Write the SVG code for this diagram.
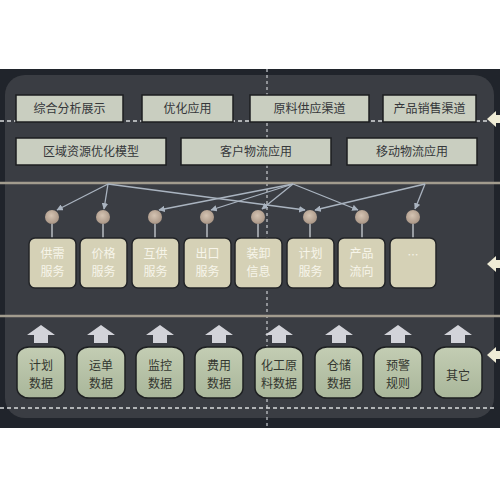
<svg xmlns="http://www.w3.org/2000/svg" width="500" height="500" viewBox="0 0 500 500">
<defs>
<style>
text{font-family:"Noto Sans CJK SC","Noto Sans",sans-serif;text-anchor:middle;}
.tb rect{fill:#c9cec0;stroke:#1c1e21;stroke-width:1.5;}
.tb text{font-size:12px;fill:#35373a;}
.svc rect{fill:#d5d1b6;stroke:#232528;stroke-width:1.5;}
.svc text{font-size:12px;fill:#f7f5ea;}
.cyl rect{fill:url(#cg);stroke:#1e2022;stroke-width:1.5;}
.cyl text{font-size:12px;fill:#33362f;}
.dot{fill:url(#dg);}
.stem{stroke:#b9bcc0;stroke-width:1.5;}
.conn line{stroke:#aab4c0;stroke-width:1.3;marker-end:url(#ah);}
.up{fill:#d2d3d9;}
.la{fill:#efecd6;}
</style>
<radialGradient id="dg" cx="0.45" cy="0.4" r="0.6">
<stop offset="0" stop-color="#d4c3b2"/><stop offset="1" stop-color="#a99686"/>
</radialGradient>
<linearGradient id="cg" x1="0" y1="0" x2="0" y2="1">
<stop offset="0" stop-color="#c3cdb3"/><stop offset="1" stop-color="#a9b69a"/>
</linearGradient>
<marker id="ah" viewBox="0 0 10 10" refX="9" refY="5" markerWidth="5" markerHeight="5" orient="auto">
<path d="M0,0 L10,5 L0,10 z" fill="#aab4c0"/>
</marker>
<path id="upA" d="M-14,10 L0,0 L14,10 L7,10 L7,18 L-7,18 L-7,10 z"/>
<path id="lA" d="M0,0 L9,-8 L9,-4 L14,-4 L14,4 L9,4 L9,8 z"/>
</defs>

<rect x="0" y="0" width="500" height="500" fill="#ffffff"/>
<rect x="0" y="69" width="500" height="359" fill="#20242b"/>
<rect x="5" y="75" width="489" height="343" rx="20" fill="#3a3d43"/>

<!-- separators -->
<g id="separators">
<line x1="267" y1="69" x2="267" y2="428" stroke="#c8ccd0" stroke-width="1.2" stroke-dasharray="3,3"/>
<line x1="0" y1="121" x2="490" y2="121" stroke="#d8dadc" stroke-width="1.5" stroke-dasharray="4,3"/>
<line x1="0" y1="183" x2="500" y2="183" stroke="#a29c8e" stroke-width="2.5"/>
<line x1="0" y1="316" x2="500" y2="316" stroke="#a29c8e" stroke-width="2.5"/>
<line x1="0" y1="408" x2="494" y2="408" stroke="#d8dadc" stroke-width="1.5" stroke-dasharray="4,3"/>
</g>

<!-- top boxes -->
<g id="t1" class="tb"><rect x="16" y="95" width="107" height="27"/><text x="69.5" y="113">综合分析展示</text></g>
<g id="t2" class="tb"><rect x="142" y="95" width="91" height="27"/><text x="187.5" y="113">优化应用</text></g>
<g id="t3" class="tb"><rect x="250" y="95" width="119" height="27"/><text x="309.5" y="113">原料供应渠道</text></g>
<g id="t4" class="tb"><rect x="383" y="95" width="93" height="27"/><text x="429.5" y="113">产品销售渠道</text></g>
<g id="t5" class="tb"><rect x="16" y="138" width="150" height="27"/><text x="91" y="156">区域资源优化模型</text></g>
<g id="t6" class="tb"><rect x="181" y="138" width="150" height="27"/><text x="256" y="156">客户物流应用</text></g>
<g id="t7" class="tb"><rect x="347" y="138" width="130" height="27"/><text x="412" y="156">移动物流应用</text></g>

<!-- connectors -->
<g id="connectors" class="conn">
<line x1="108" y1="184" x2="57" y2="210"/>
<line x1="108" y1="184" x2="104" y2="209"/>
<line x1="108" y1="184" x2="305" y2="210"/>
<line x1="293" y1="184" x2="159" y2="210"/>
<line x1="293" y1="184" x2="211" y2="210"/>
<line x1="293" y1="184" x2="262" y2="209"/>
<line x1="293" y1="184" x2="358" y2="210"/>
<line x1="425" y1="184" x2="315" y2="210"/>
<line x1="425" y1="184" x2="415" y2="209"/>
</g>

<!-- service nodes -->
<g id="s1" class="svc"><line class="stem" x1="52" y1="224" x2="52" y2="238"/><circle class="dot" cx="52" cy="217" r="7"/><rect x="29" y="238" width="47" height="50" rx="6"/><text x="52.5" y="258">供需</text><text x="52.5" y="276">服务</text></g>
<g id="s2" class="svc"><line class="stem" x1="103" y1="224" x2="103" y2="238"/><circle class="dot" cx="103" cy="217" r="7"/><rect x="80" y="238" width="47" height="50" rx="6"/><text x="103.5" y="258">价格</text><text x="103.5" y="276">服务</text></g>
<g id="s3" class="svc"><line class="stem" x1="155" y1="224" x2="155" y2="238"/><circle class="dot" cx="155" cy="217" r="7"/><rect x="132" y="238" width="47" height="50" rx="6"/><text x="155.5" y="258">互供</text><text x="155.5" y="276">服务</text></g>
<g id="s4" class="svc"><line class="stem" x1="207" y1="224" x2="207" y2="238"/><circle class="dot" cx="207" cy="217" r="7"/><rect x="184" y="238" width="47" height="50" rx="6"/><text x="207.5" y="258">出口</text><text x="207.5" y="276">服务</text></g>
<g id="s5" class="svc"><line class="stem" x1="258" y1="224" x2="258" y2="238"/><circle class="dot" cx="258" cy="217" r="7"/><rect x="235" y="238" width="47" height="50" rx="6"/><text x="258.5" y="258">装卸</text><text x="258.5" y="276">信息</text></g>
<g id="s6" class="svc"><line class="stem" x1="310" y1="224" x2="310" y2="238"/><circle class="dot" cx="310" cy="217" r="7"/><rect x="287" y="238" width="47" height="50" rx="6"/><text x="310.5" y="258">计划</text><text x="310.5" y="276">服务</text></g>
<g id="s7" class="svc"><line class="stem" x1="362" y1="224" x2="362" y2="238"/><circle class="dot" cx="362" cy="217" r="7"/><rect x="338" y="238" width="47" height="50" rx="6"/><text x="361.5" y="258">产品</text><text x="361.5" y="276">流向</text></g>
<g id="s8" class="svc"><line class="stem" x1="413" y1="224" x2="413" y2="238"/><circle class="dot" cx="413" cy="217" r="7"/><rect x="390" y="238" width="46" height="50" rx="6"/><text x="413" y="259" style="font-size:11px">…</text></g>

<!-- data cylinders -->
<g id="d1" class="cyl"><use href="#upA" class="up" x="41" y="325"/><rect x="17" y="347" width="48" height="51" rx="12" ry="10"/><text x="41" y="370">计划</text><text x="41" y="388">数据</text></g>
<g id="d2" class="cyl"><use href="#upA" class="up" x="101" y="325"/><rect x="77" y="347" width="48" height="51" rx="12" ry="10"/><text x="101" y="370">运单</text><text x="101" y="388">数据</text></g>
<g id="d3" class="cyl"><use href="#upA" class="up" x="160" y="325"/><rect x="136" y="347" width="48" height="51" rx="12" ry="10"/><text x="160" y="370">监控</text><text x="160" y="388">数据</text></g>
<g id="d4" class="cyl"><use href="#upA" class="up" x="219" y="325"/><rect x="195" y="347" width="48" height="51" rx="12" ry="10"/><text x="219" y="370">费用</text><text x="219" y="388">数据</text></g>
<g id="d5" class="cyl"><use href="#upA" class="up" x="279" y="325"/><rect x="255" y="347" width="48" height="51" rx="12" ry="10"/><text x="279" y="370">化工原</text><text x="279" y="388">料数据</text></g>
<g id="d6" class="cyl"><use href="#upA" class="up" x="339" y="325"/><rect x="315" y="347" width="48" height="51" rx="12" ry="10"/><text x="339" y="370">仓储</text><text x="339" y="388">数据</text></g>
<g id="d7" class="cyl"><use href="#upA" class="up" x="398" y="325"/><rect x="374" y="347" width="48" height="51" rx="12" ry="10"/><text x="398" y="370">预警</text><text x="398" y="388">规则</text></g>
<g id="d8" class="cyl"><use href="#upA" class="up" x="458" y="325"/><rect x="434" y="347" width="48" height="51" rx="12" ry="10"/><text x="458" y="380">其它</text></g>

<!-- side arrows -->
<g id="side-arrows">
<use href="#lA" class="la" x="487" y="119"/>
<use href="#lA" class="la" x="487" y="264"/>
<use href="#lA" class="la" x="487" y="355"/>
</g>
</svg>
